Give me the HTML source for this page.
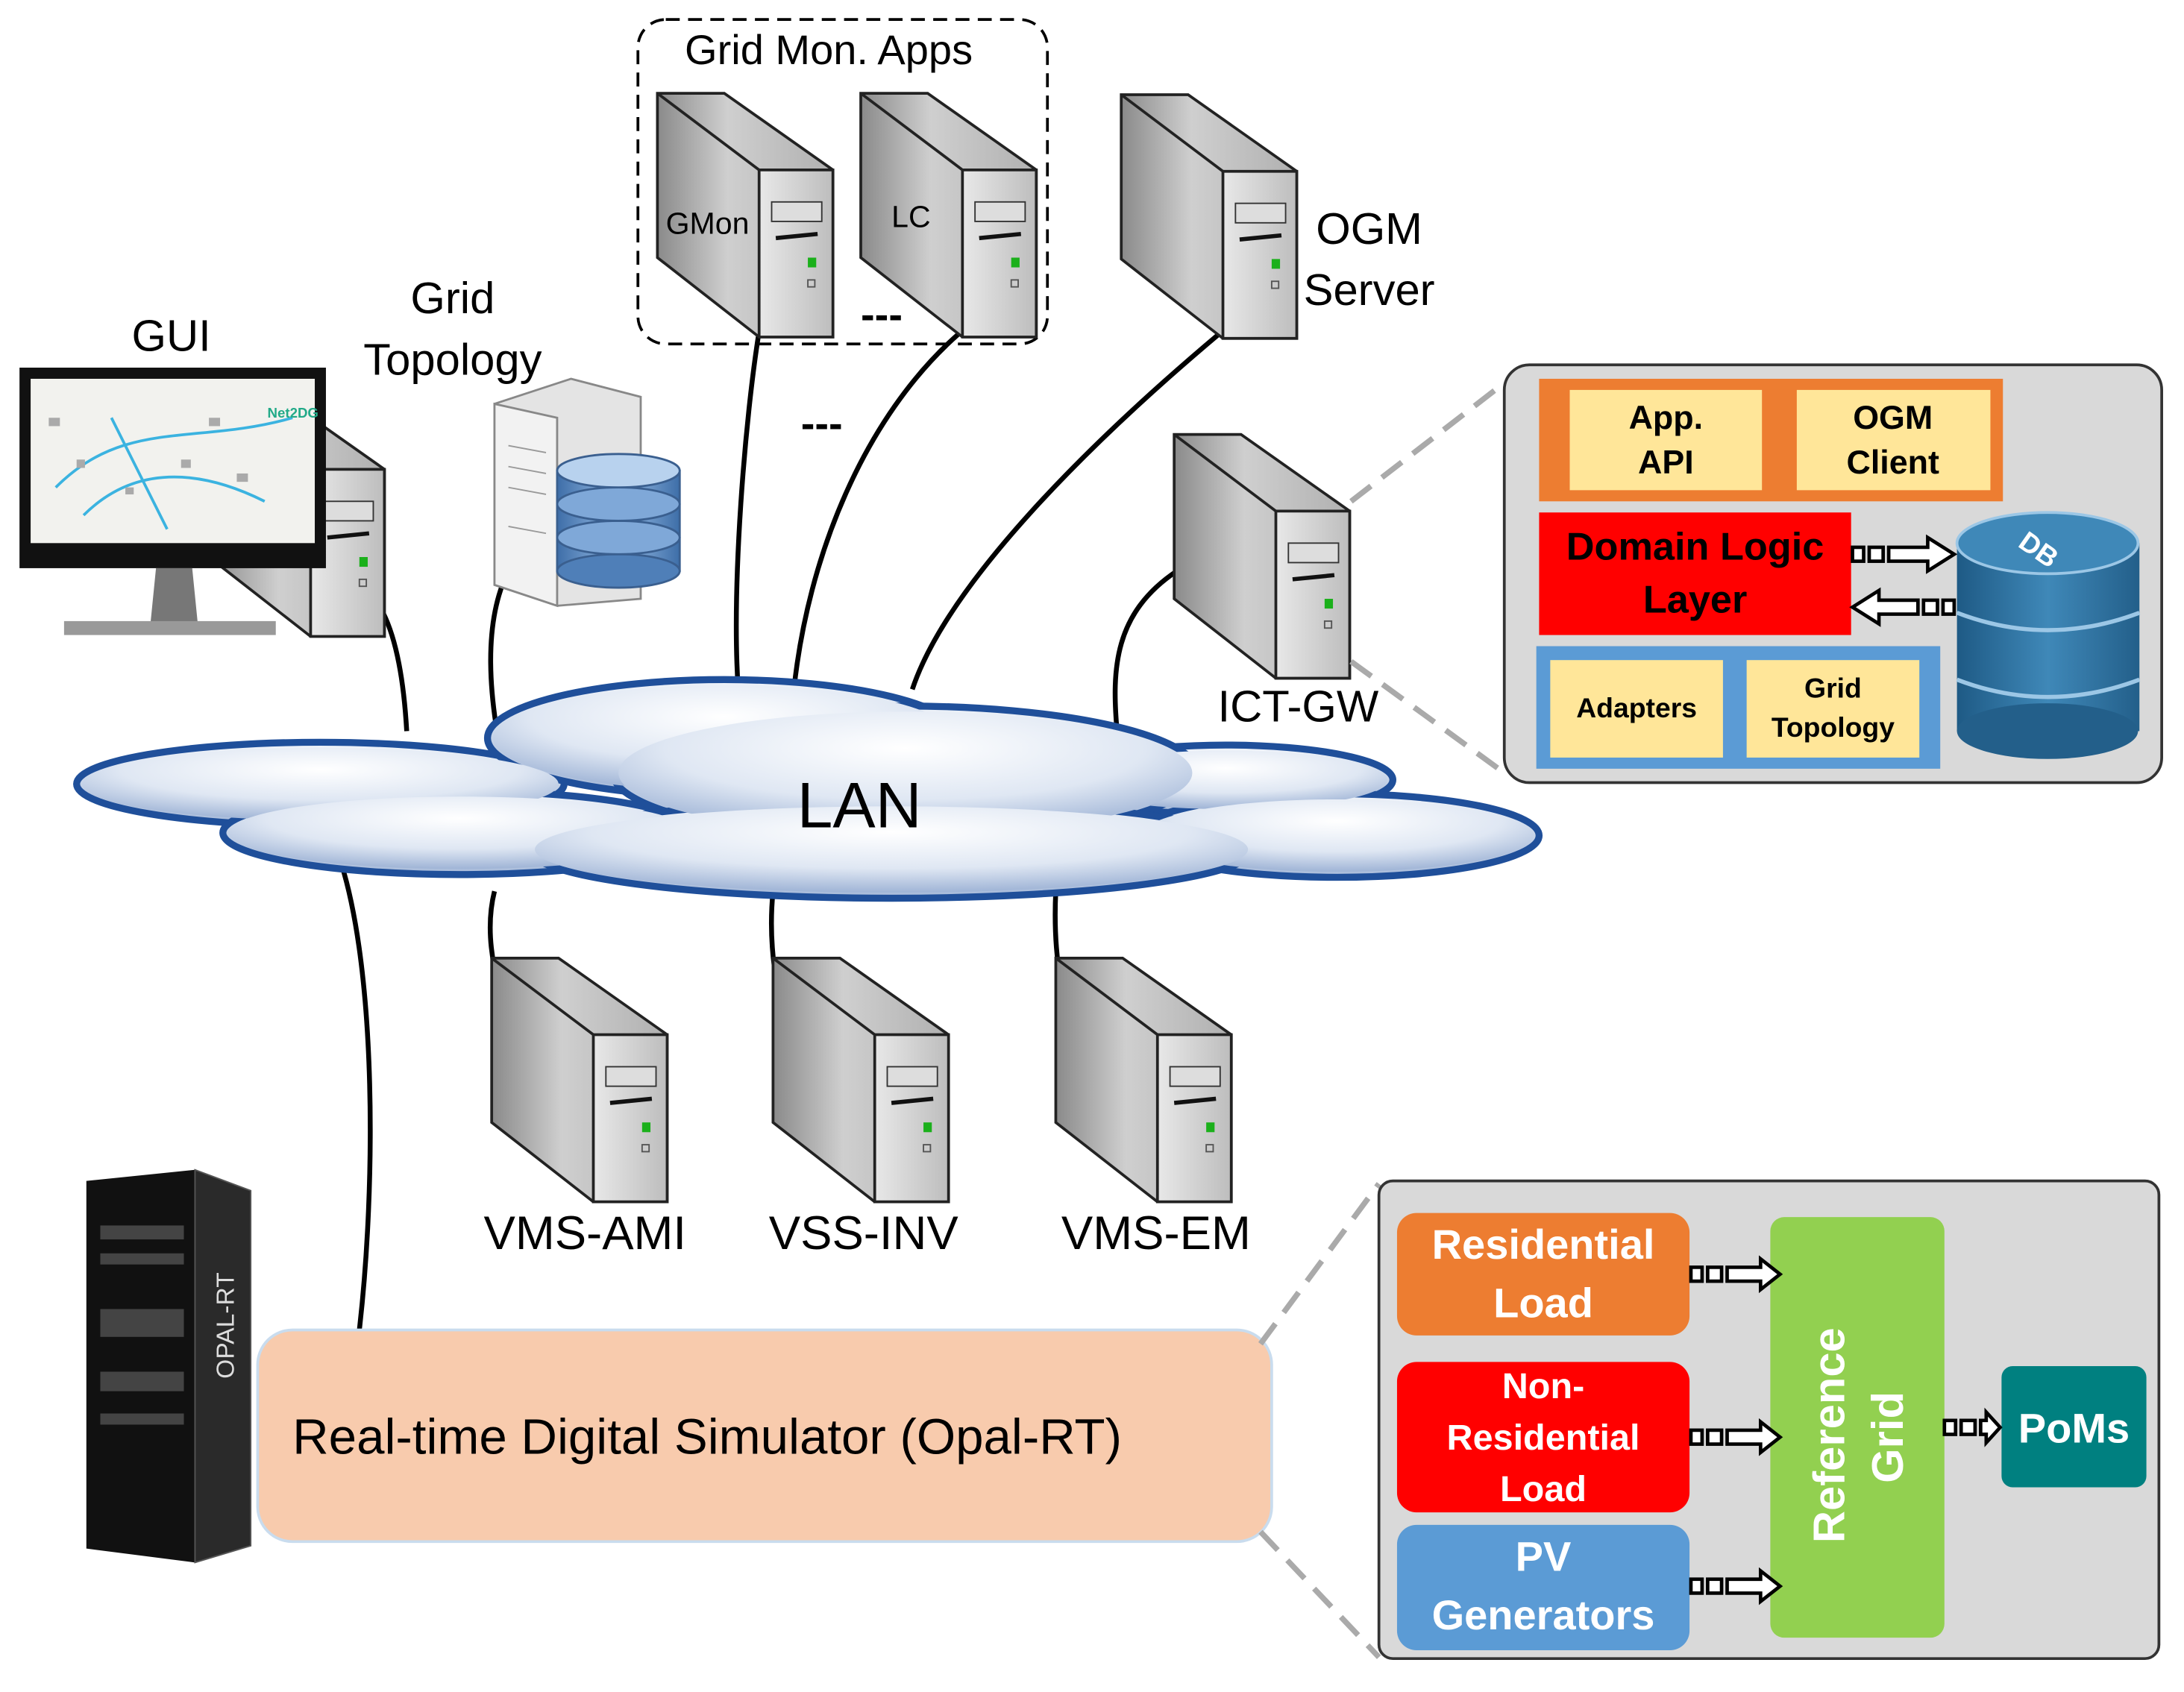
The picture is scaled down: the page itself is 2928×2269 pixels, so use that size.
<!DOCTYPE html>
<html><head><meta charset="utf-8"><style>
html,body{margin:0;padding:0;background:#fff}
svg{display:block}
text{font-family:"Liberation Sans","DejaVu Sans",sans-serif}
</style></head><body>
<svg width="2928" height="2269" viewBox="0 0 1568 1215" preserveAspectRatio="none" xmlns="http://www.w3.org/2000/svg">
<defs>
<linearGradient id="sd" x1="0" x2="1"><stop offset="0" stop-color="#8a8a8a"/><stop offset="0.4" stop-color="#cfcfcf"/><stop offset="1" stop-color="#b0b0b0"/></linearGradient>
<linearGradient id="fr" x1="0" x2="1"><stop offset="0" stop-color="#e8e8e8"/><stop offset="1" stop-color="#bdbdbd"/></linearGradient>
<radialGradient id="cl" cx="0.5" cy="0.3" r="0.7"><stop offset="0" stop-color="#ffffff"/><stop offset="0.6" stop-color="#dfe7f3"/><stop offset="1" stop-color="#9fb4d6"/></radialGradient>
<linearGradient id="db" x1="0" x2="1"><stop offset="0" stop-color="#1e5a85"/><stop offset="0.5" stop-color="#3f88b8"/><stop offset="1" stop-color="#235f8a"/></linearGradient>
<linearGradient id="db2" x1="0" x2="1"><stop offset="0" stop-color="#3e6ea8"/><stop offset="0.5" stop-color="#9cc0e8"/><stop offset="1" stop-color="#3e6ea8"/></linearGradient>
<g id="srv">
<polygon points="0,0 48,0 126,55 126,175 73,175 0,118" fill="url(#sd)" stroke="#222" stroke-width="2"/>
<polygon points="73,55 126,55 126,175 73,175" fill="url(#fr)" stroke="#222" stroke-width="2"/>
<line x1="0" y1="0" x2="73" y2="55" stroke="#222" stroke-width="2"/>
<rect x="82" y="78" width="36" height="14" fill="#ddd" stroke="#333"/>
<line x1="85" y1="104" x2="115" y2="101" stroke="#111" stroke-width="3"/>
<rect x="108" y="118" width="6" height="7" fill="#1bb01b"/>
<rect x="108" y="134" width="5" height="5" fill="#ccc" stroke="#555"/>
</g>
</defs>

<!-- wires -->
<g fill="none" stroke="#000" stroke-width="3.5">
<path d="M275,440 C285,460 290,490 292,525"/>
<path d="M365,410 C350,440 350,480 356,520"/>
<path d="M545,238 C535,300 525,420 530,495"/>
<path d="M688,240 C620,300 580,400 570,495"/>
<path d="M875,240 C780,320 680,420 655,495"/>
<path d="M845,410 C800,440 798,480 802,525"/>
<path d="M245,620 C270,700 270,850 258,955"/>
<path d="M355,640 C350,660 352,680 355,695"/>
<path d="M555,640 C553,660 554,680 556,695"/>
<path d="M758,640 C757,660 758,680 760,695"/>
</g>

<!-- Grid Mon dashed box -->
<rect x="458" y="14" width="294" height="233" rx="20" fill="none" stroke="#000" stroke-width="2" stroke-dasharray="10,6"/>
<text x="595" y="46" font-size="30" text-anchor="middle">Grid Mon. Apps</text>

<use href="#srv" transform="translate(472,67)"/>
<use href="#srv" transform="translate(618,67)"/>
<use href="#srv" transform="translate(805,68)"/>
<use href="#srv" transform="translate(843,312)"/>
<use href="#srv" transform="translate(150,282)"/>
<use href="#srv" transform="translate(353,688)"/>
<use href="#srv" transform="translate(555,688)"/>
<use href="#srv" transform="translate(758,688)"/>
<text x="478" y="168" font-size="22">GMon</text>
<text x="640" y="163" font-size="22">LC</text>
<text x="633" y="236" font-size="30" font-weight="bold" text-anchor="middle">---</text>
<text x="590" y="314" font-size="30" font-weight="bold" text-anchor="middle">---</text>
<text x="983" y="175" font-size="32" text-anchor="middle">OGM</text>
<text x="983" y="219" font-size="32" text-anchor="middle">Server</text>

<!-- GUI monitor -->
<rect x="14" y="264" width="220" height="144" fill="#111"/>
<rect x="22" y="272" width="204" height="118" fill="#f2f2ee"/>
<g stroke="#3bb3e0" stroke-width="2" fill="none"><path d="M40,350 C90,300 140,320 210,300"/><path d="M60,370 C100,330 150,340 190,360"/><path d="M80,300 L120,380"/></g>
<g fill="#aaa"><rect x="35" y="300" width="8" height="6"/><rect x="55" y="330" width="6" height="6"/><rect x="150" y="300" width="8" height="6"/><rect x="170" y="340" width="8" height="6"/><rect x="90" y="350" width="6" height="5"/><rect x="130" y="330" width="7" height="6"/></g>
<text x="192" y="300" font-size="10" fill="#2a8" font-weight="bold">Net2DG</text>
<polygon points="112,408 138,408 142,448 108,448" fill="#777"/>
<rect x="46" y="446" width="152" height="10" fill="#999"/>
<text x="123" y="252" font-size="32" text-anchor="middle">GUI</text>

<!-- Grid topology server + db -->
<polygon points="355,290 410,272 460,285 460,430 400,435 355,420" fill="#e4e4e4" stroke="#888" stroke-width="1.5"/>
<polygon points="355,290 400,300 400,435 355,420" fill="#f2f2f2" stroke="#888" stroke-width="1.5"/>
<g stroke="#999"><line x1="365" y1="320" x2="392" y2="325"/><line x1="365" y1="335" x2="392" y2="340"/><line x1="365" y1="350" x2="392" y2="355"/><line x1="365" y1="378" x2="392" y2="383"/></g>
<g stroke="#3a5f8f" stroke-width="1.5">
<rect x="400" y="338" width="88" height="72" fill="url(#db2)"/>
<ellipse cx="444" cy="410" rx="44" ry="12" fill="#4f7fb8"/>
<ellipse cx="444" cy="386" rx="44" ry="12" fill="#7fa8d8"/>
<ellipse cx="444" cy="362" rx="44" ry="12" fill="#7fa8d8"/>
<ellipse cx="444" cy="338" rx="44" ry="12" fill="#b8d2ee"/>
</g>
<text x="325" y="225" font-size="32" text-anchor="middle">Grid</text>
<text x="325" y="269" font-size="32" text-anchor="middle">Topology</text>
<text x="932" y="518" font-size="32" text-anchor="middle">ICT-GW</text>

<!-- Cloud -->
<g fill="url(#cl)" stroke="#1f4f9a" stroke-width="5">
<ellipse cx="230" cy="563" rx="175" ry="30"/>
<ellipse cx="520" cy="530" rx="170" ry="42"/>
<ellipse cx="880" cy="560" rx="120" ry="25"/>
<ellipse cx="330" cy="598" rx="170" ry="30"/>
<ellipse cx="650" cy="555" rx="210" ry="48"/>
<ellipse cx="960" cy="600" rx="145" ry="30"/>
<ellipse cx="640" cy="610" rx="260" ry="35"/>
</g>
<g fill="url(#cl)">
<ellipse cx="230" cy="563" rx="171" ry="26"/>
<ellipse cx="520" cy="530" rx="166" ry="38"/>
<ellipse cx="880" cy="560" rx="116" ry="21"/>
<ellipse cx="330" cy="598" rx="166" ry="26"/>
<ellipse cx="650" cy="555" rx="206" ry="44"/>
<ellipse cx="960" cy="600" rx="141" ry="26"/>
<ellipse cx="640" cy="610" rx="256" ry="31"/>
</g>
<text x="617" y="594" font-size="46" text-anchor="middle">LAN</text>

<!-- bottom labels -->
<text x="420" y="897" font-size="34" text-anchor="middle">VMS-AMI</text>
<text x="620" y="897" font-size="34" text-anchor="middle">VSS-INV</text>
<text x="830" y="897" font-size="34" text-anchor="middle">VMS-EM</text>

<!-- Opal-RT -->
<rect x="185" y="955" width="728" height="152" rx="25" fill="#f8cbad" stroke="#c9dcee" stroke-width="2"/>
<text x="210" y="1044" font-size="36">Real-time Digital Simulator (Opal-RT)</text>
<polygon points="62,848 140,840 180,855 180,1110 140,1122 62,1112" fill="#111"/>
<polygon points="140,840 180,855 180,1110 140,1122" fill="#2a2a2a" stroke="#555"/>
<g fill="#444"><rect x="72" y="880" width="60" height="10"/><rect x="72" y="900" width="60" height="8"/><rect x="72" y="940" width="60" height="20"/><rect x="72" y="985" width="60" height="14"/><rect x="72" y="1015" width="60" height="8"/></g>
<text transform="translate(168,990) rotate(-90)" font-size="18" fill="#ddd">OPAL-RT</text>

<!-- dashed zoom lines -->
<g stroke="#aaa" stroke-width="4" stroke-dasharray="18,10" fill="none">
<line x1="970" y1="360" x2="1080" y2="275"/>
<line x1="970" y1="475" x2="1080" y2="555"/>
<line x1="905" y1="965" x2="990" y2="850"/>
<line x1="905" y1="1100" x2="990" y2="1190"/>
</g>

<!-- right top panel -->
<rect x="1080" y="262" width="472" height="300" rx="18" fill="#d9d9d9" stroke="#333" stroke-width="2"/>
<rect x="1105" y="272" width="333" height="88" fill="#ed7d31"/>
<rect x="1127" y="280" width="138" height="72" fill="#ffe699"/>
<rect x="1290" y="280" width="139" height="72" fill="#ffe699"/>
<text x="1196" y="308" font-size="24" font-weight="bold" text-anchor="middle">App.</text>
<text x="1196" y="340" font-size="24" font-weight="bold" text-anchor="middle">API</text>
<text x="1359" y="308" font-size="24" font-weight="bold" text-anchor="middle">OGM</text>
<text x="1359" y="340" font-size="24" font-weight="bold" text-anchor="middle">Client</text>
<rect x="1105" y="368" width="224" height="88" fill="#ff0000"/>
<text x="1217" y="402" font-size="28" font-weight="bold" text-anchor="middle">Domain Logic</text>
<text x="1217" y="440" font-size="28" font-weight="bold" text-anchor="middle">Layer</text>
<rect x="1103" y="464" width="290" height="88" fill="#5b9bd5"/>
<rect x="1113" y="474" width="124" height="70" fill="#ffe699"/>
<rect x="1254" y="474" width="124" height="70" fill="#ffe699"/>
<text x="1175" y="515" font-size="20" font-weight="bold" text-anchor="middle">Adapters</text>
<text x="1316" y="501" font-size="20" font-weight="bold" text-anchor="middle">Grid</text>
<text x="1316" y="529" font-size="20" font-weight="bold" text-anchor="middle">Topology</text>
<rect x="1405" y="390" width="131" height="135" fill="url(#db)"/>
<ellipse cx="1470" cy="525" rx="65" ry="20" fill="#235f8a"/>
<path d="M1405,440 Q1470,465 1536,440 M1405,488 Q1470,513 1536,488" stroke="#9cc7e6" stroke-width="3" fill="none"/>
<ellipse cx="1470" cy="390" rx="65" ry="22" fill="#3f88b8" stroke="#9cc7e6" stroke-width="2"/>
<text transform="translate(1448,392) rotate(35)" font-size="20" font-weight="bold" fill="#fff">DB</text>
<g fill="#fff" stroke="#000" stroke-width="2.5">
<rect x="1330" y="393" width="8" height="10"/><rect x="1342" y="393" width="10" height="10"/>
<polygon points="1356,393 1384,393 1384,386 1403,398 1384,410 1384,403 1356,403"/>
<rect x="1395" y="431" width="8" height="10"/><rect x="1381" y="431" width="10" height="10"/>
<polygon points="1377,431 1349,431 1349,424 1330,436 1349,448 1349,441 1377,441"/>
</g>

<!-- right bottom panel -->
<rect x="990" y="848" width="560" height="343" rx="10" fill="#d9d9d9" stroke="#333" stroke-width="2"/>
<rect x="1003" y="871" width="210" height="88" rx="14" fill="#ed7d31"/>
<text x="1108" y="904" font-size="30" font-weight="bold" fill="#fff" text-anchor="middle">Residential</text>
<text x="1108" y="946" font-size="30" font-weight="bold" fill="#fff" text-anchor="middle">Load</text>
<rect x="1003" y="978" width="210" height="108" rx="14" fill="#ff0000"/>
<text x="1108" y="1004" font-size="26" font-weight="bold" fill="#fff" text-anchor="middle">Non-</text>
<text x="1108" y="1041" font-size="26" font-weight="bold" fill="#fff" text-anchor="middle">Residential</text>
<text x="1108" y="1078" font-size="26" font-weight="bold" fill="#fff" text-anchor="middle">Load</text>
<rect x="1003" y="1095" width="210" height="90" rx="14" fill="#5b9bd5"/>
<text x="1108" y="1128" font-size="30" font-weight="bold" fill="#fff" text-anchor="middle">PV</text>
<text x="1108" y="1170" font-size="30" font-weight="bold" fill="#fff" text-anchor="middle">Generators</text>
<rect x="1271" y="874" width="125" height="302" rx="10" fill="#92d050"/>
<text transform="translate(1324,1108) rotate(-90)" font-size="32" font-weight="bold" fill="#fff">Reference</text>
<text transform="translate(1366,1065) rotate(-90)" font-size="32" font-weight="bold" fill="#fff">Grid</text>
<rect x="1437" y="981" width="104" height="87" rx="8" fill="#008080"/>
<text x="1489" y="1036" font-size="30" font-weight="bold" fill="#fff" text-anchor="middle">PoMs</text>
<g fill="#fff" stroke="#000" stroke-width="2.5">
<g transform="translate(1214,915)"><rect x="0" y="-5" width="8" height="10"/><rect x="12" y="-5" width="10" height="10"/><polygon points="26,-5 50,-5 50,-11 64,0 50,11 50,5 26,5"/></g>
<g transform="translate(1214,1032)"><rect x="0" y="-5" width="8" height="10"/><rect x="12" y="-5" width="10" height="10"/><polygon points="26,-5 50,-5 50,-11 64,0 50,11 50,5 26,5"/></g>
<g transform="translate(1214,1139)"><rect x="0" y="-5" width="8" height="10"/><rect x="12" y="-5" width="10" height="10"/><polygon points="26,-5 50,-5 50,-11 64,0 50,11 50,5 26,5"/></g>
<g transform="translate(1396,1025)"><rect x="0" y="-5" width="8" height="10"/><rect x="12" y="-5" width="10" height="10"/><polygon points="26,-5 30,-5 30,-11 40,0 30,11 30,5 26,5"/></g>
</g>
</svg>
</body></html>
